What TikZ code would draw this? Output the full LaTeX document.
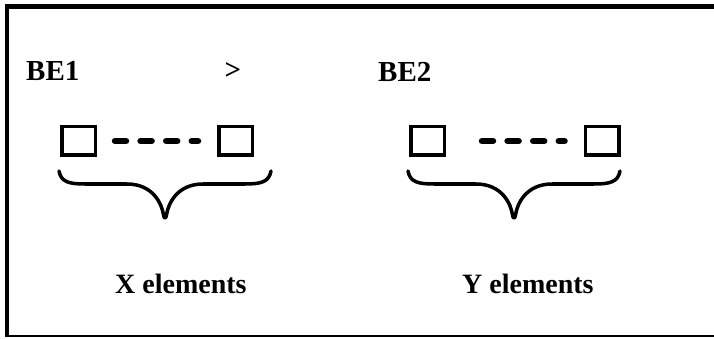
\documentclass[tikz,border=0pt]{standalone}
\usepackage{fontspec}
\setmainfont{Liberation Serif}
\usetikzlibrary{positioning}

\tikzset{
	elem/.style={draw, line width=3.5pt, minimum width=33.5pt, minimum height=28.5pt, inner sep=0pt, outer sep=1.75pt},
	elemdots/.style={line width=6.5pt, line cap=round, dash pattern=on 11pt off 14.6pt},
	belabel/.style={font=\fontsize{29}{34}\selectfont\bfseries, anchor=base west, inner sep=0pt},
	countlabel/.style={font=\fontsize{28}{34}\selectfont\bfseries, anchor=base west, inner sep=0pt},
	pics/setbrace/.style={code={
		\draw[line width=3.5pt, line cap=round, line join=round]
		(-106,-47) .. controls (-104,-36) and (-96,-34) .. (-80,-34) -- (-38,-34)
		.. controls (-12,-34) and (-3,-14) .. (-1.5,-3) .. controls (-1,1) and (1,1) .. (1.5,-3)
		.. controls (3,-14) and (12,-34) .. (38,-34) -- (80,-34)
		.. controls (96,-34) and (104,-36) .. (106,-47);
	}}
}

\begin{document}
\begin{tikzpicture}[x=1pt, y=-1pt]
		\useasboundingbox (0,0) rectangle (714,339);
		\draw[line width=4.5pt] (714,6.5) -- (5,6.5);
		\draw[line width=4pt] (7,4.5) -- (7,336.5);
		\draw[line width=2pt] (5,335.5) -- (714,335.5);

		\node[belabel] (BE1) at (26,81) {BE1};
		\node[font=\fontsize{29}{34}\selectfont\bfseries, inner sep=0pt] (G) at (233,71) {>};
		\node[belabel] (BE2) at (378,82) {BE2};

		\node[elem] (X1) at (78.5,141) {};
		\node[elem] (Xn) at (235.5,141) {};
		\draw[elemdots, shorten <=18pt, shorten >=19pt] (X1.east) -- (Xn.west);
		\coordinate (XB) at (165,218);
		\pic at (XB) {setbrace};
		\node[countlabel] (XL) at (115,293) {X elements};

		\node[elem] (Y1) at (427.5,141) {};
		\node[elem] (Yn) at (602,141) {};
		\draw[elemdots, shorten <=36pt, shorten >=19pt] (Y1.east) -- (Yn.west);
		\coordinate (YB) at (514,218);
		\pic at (YB) {setbrace};
		\node[countlabel] (YL) at (462,293) {Y elements};
		\end{tikzpicture}
\end{document}
